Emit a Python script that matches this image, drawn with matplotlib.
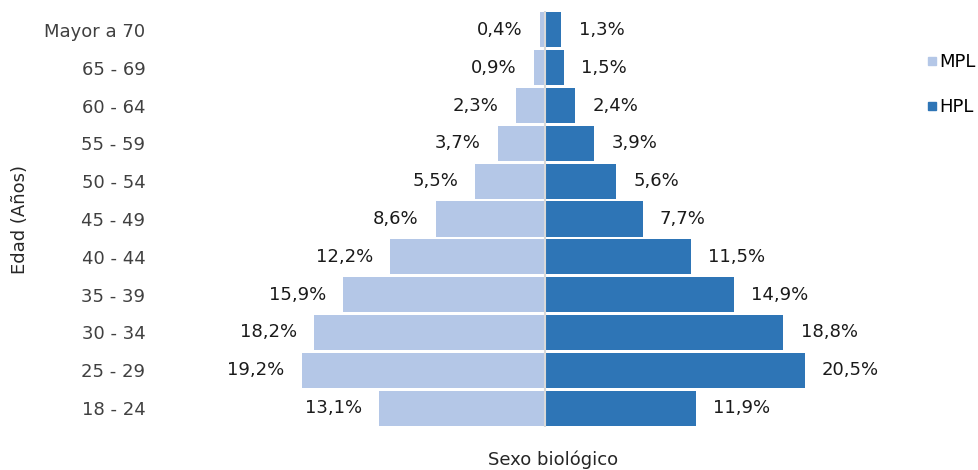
import matplotlib.pyplot as plt
import numpy as np
from matplotlib.lines import Line2D

plt.rcParams['font.family'] = 'DejaVu Sans'

# Age groups, bottom to top
grupos = ['18 - 24', '25 - 29', '30 - 34', '35 - 39', '40 - 44', '45 - 49',
          '50 - 54', '55 - 59', '60 - 64', '65 - 69', 'Mayor a 70']
mpl_vals = [13.1, 19.2, 18.2, 15.9, 12.2, 8.6, 5.5, 3.7, 2.3, 0.9, 0.4]
hpl_vals = [11.9, 20.5, 18.8, 14.9, 11.5, 7.7, 5.6, 3.9, 2.4, 1.5, 1.3]

c_mpl = '#b4c7e7'
c_hpl = '#2e75b6'
fs = 13

W, H = 979, 470
fig = plt.figure(figsize=(W / 100, H / 100), dpi=100)
# axes in pixel coords: left 155, right 915, top 11, bottom 427
ax = fig.add_axes([155 / W, 1 - 427 / H, 760 / W, 416 / H])

y = np.arange(len(grupos))
ax.barh(y, [-v for v in mpl_vals], height=0.93, color=c_mpl, zorder=2)
ax.barh(y, hpl_vals, height=0.93, color=c_hpl, zorder=2)
ax.axvline(0, color='#d9d9d9', lw=1.5, zorder=3)

fmt = lambda v: f'{v:.1f}%'.replace('.', ',')
for i in range(len(grupos)):
    ax.text(-mpl_vals[i] - 1.35, y[i], fmt(mpl_vals[i]), ha='right', va='center',
            fontsize=fs, color='#1a1a1a')
    ax.text(hpl_vals[i] + 1.35, y[i], fmt(hpl_vals[i]), ha='left', va='center',
            fontsize=fs, color='#1a1a1a')

ax.set_xlim(-30.76, 29.18)
ax.set_ylim(-0.5, 10.5)
ax.set_yticks(y)
ax.set_yticklabels(grupos, fontsize=fs, color='#404040')
ax.tick_params(axis='y', length=0, pad=7)
ax.set_xticks([])
for s in ax.spines.values():
    s.set_visible(False)

fig.text(20 / W, 1 - 220 / H, 'Edad (Años)', rotation=90, ha='center', va='center',
         fontsize=fs, color='#262626')
fig.text(553 / W, 1 - 460 / H, 'Sexo biológico', ha='center', va='center',
         fontsize=fs, color='#262626')

handles = [Line2D([], [], marker='s', ls='', color=c_mpl, markersize=6),
           Line2D([], [], marker='s', ls='', color=c_hpl, markersize=6)]
fig.legend(handles, ['MPL', 'HPL'], loc='upper left', bbox_to_anchor=(927 / W, 1 - 53 / H),
           frameon=False, fontsize=fs, handlelength=0.5, handletextpad=0.2,
           labelspacing=1.5, borderpad=0, borderaxespad=0)

plt.savefig('out.png', dpi=100)
